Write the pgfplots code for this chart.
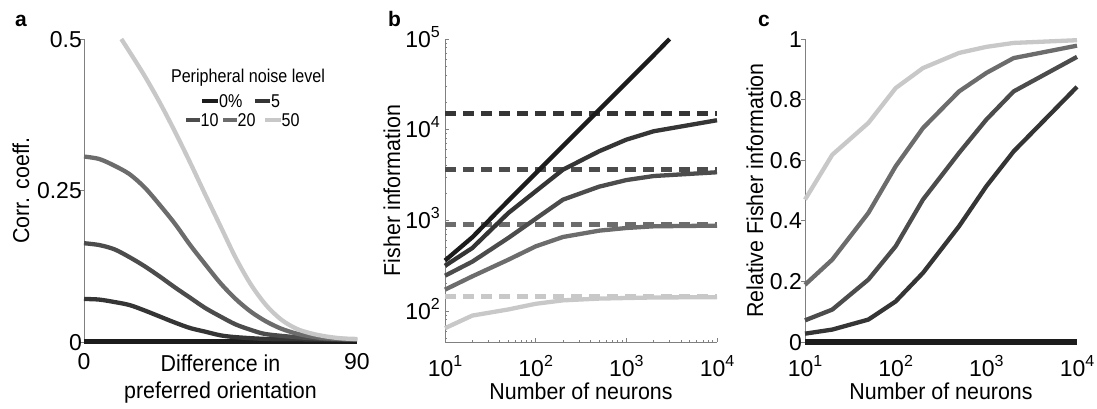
\documentclass[border=0pt]{standalone}
\usepackage{fontspec}
\setmainfont{Liberation Sans}
\newfontfamily\labf{Liberation Sans}[FakeStretch=0.93]
\newfontfamily\legf{Liberation Sans}[FakeStretch=0.87]
\usepackage{pgfplots}
\pgfplotsset{compat=1.18}
\definecolor{c0}{HTML}{1C1C1C}
\definecolor{c5}{HTML}{353535}
\definecolor{c10}{HTML}{4C4C4C}
\definecolor{c20}{HTML}{6C6C6C}
\definecolor{c50}{HTML}{C8C8C8}
\definecolor{axg}{HTML}{808080}
\newcommand{\tfont}{\fontsize{23}{26}\selectfont}
\newcommand{\labfont}{\labf\fontsize{23}{26.5}\selectfont}
\newcommand{\lfont}{\legf\fontsize{18.5}{20}\selectfont}
\newcommand{\pw}[1]{10\raisebox{10pt}{\fontsize{16}{16}\selectfont #1}}
\pgfplotsset{
  every axis/.append style={
    scale only axis, anchor=south west, height=303pt,
    axis x line*=bottom, axis y line*=left,
    axis line style={-, draw=axg, line width=0.8pt},
    tick style={draw=axg, line width=0.8pt},
    major tick length=4pt, minor tick length=2.5pt,
    tick label style={font=\tfont, inner sep=0pt},
    label style={font=\labfont},
    yticklabel style={anchor=base east, yshift=-8.2pt},
    xticklabel style={anchor=base},
    clip=false,
  },
  sol/.style={line width=4.3pt, line join=round},
  das/.style={line width=5pt, dash pattern=on 11pt off 7pt},
}
\begin{document}
\begin{tikzpicture}
\path[use as bounding box] (0,0) rectangle (1097pt,409pt);
% ---------------- panel a
\begin{axis}[at={(84pt,67pt)}, width=273pt,
  xmin=0, xmax=90, ymin=0, ymax=0.5,
  xtick={0,90}, xticklabels={0,90}, xtick style={draw=none},
  ytick={0,0.25,0.5}, yticklabels={0,0.25,0.5},
  tick align=outside,
  xticklabel style={yshift=-24pt},
  yticklabel style={xshift=2pt},
  xlabel={Difference in\\preferred orientation},
  xlabel style={align=center, at={(axis description cs:0.5,0)}, anchor=north, inner sep=0pt, yshift=-13pt},
  ylabel={Corr. coeff.},
  ylabel style={at={(axis description cs:-0.231,0.5)}, anchor=center},
]
\addplot[c0, line width=5pt] coordinates {(0,0) (90,0)};
\addplot[c5, sol, smooth] coordinates {(0,0.071) (5,0.070) (10,0.066) (15,0.061) (20,0.052) (25,0.042) (30,0.032) (35,0.023) (40,0.017) (45,0.011) (50,0.008) (60,0.005) (70,0.0045) (80,0.004) (90,0.004)};
\addplot[c10, sol, smooth] coordinates {(0,0.163) (5,0.160) (10,0.153) (15,0.140) (20,0.125) (25,0.108) (30,0.090) (35,0.073) (40,0.056) (45,0.042) (50,0.029) (55,0.020) (60,0.013) (70,0.008) (80,0.005) (90,0.004)};
\addplot[c20, sol, smooth] coordinates {(0,0.306) (5,0.302) (10,0.291) (15,0.277) (20,0.255) (25,0.226) (30,0.195) (35,0.160) (40,0.128) (45,0.097) (50,0.071) (55,0.050) (60,0.034) (65,0.022) (70,0.014) (75,0.009) (80,0.006) (90,0.004)};
\addplot[c50, sol, smooth] coordinates {(12.3,0.5) (15,0.479) (20,0.439) (25,0.395) (30,0.347) (35,0.296) (40,0.243) (45,0.191) (50,0.139) (55,0.095) (60,0.061) (65,0.037) (70,0.022) (75,0.014) (80,0.009) (85,0.006) (90,0.005)};
\end{axis}
% ---------------- panel b
\begin{axis}[at={(445pt,67pt)}, width=272pt,
  xmode=log, ymode=log,
  xmin=10, xmax=10000, ymin=45.5, ymax=100000,
  xtick={10,100,1000,10000}, xticklabels={\pw{1},\pw{2},\pw{3},\pw{4}},
  ytick={100,1000,10000,100000}, yticklabels={\pw{2},\pw{3},\pw{4},\pw{5}},
  minor xtick={20,30,40,50,60,70,80,90,200,300,400,500,600,700,800,900,2000,3000,4000,5000,6000,7000,8000,9000},
  minor ytick={50,60,70,80,90,200,300,400,500,600,700,800,900,2000,3000,4000,5000,6000,7000,8000,9000,20000,30000,40000,50000,60000,70000,80000,90000},
  tick align=inside,
  xticklabel style={yshift=-35pt},
  yticklabel style={xshift=-5pt},
  xlabel={Number of neurons},
  xlabel style={at={(axis description cs:0.5,0)}, anchor=base, inner sep=0pt, yshift=-58pt},
  ylabel={Fisher information},
  ylabel style={at={(axis description cs:-0.195,0.5)}, anchor=center},
]
\addplot[c5, das] coordinates {(10,14900) (10000,14900)};
\addplot[c10, das] coordinates {(10,3620) (10000,3620)};
\addplot[c20, das] coordinates {(10,896) (10000,896)};
\addplot[c50, das] coordinates {(10,145) (10000,145)};
\addplot[c50, sol] coordinates {(10,64.6) (20,89) (50,104) (100,120) (200,131) (500,137) (1000,139) (2000,141) (10000,142)};
\addplot[c20, sol] coordinates {(10,172) (20,241) (50,368) (100,516) (200,655) (500,769) (1000,823) (2000,859) (10000,874)};
\addplot[c10, sol] coordinates {(10,245) (20,350) (50,640) (100,1040) (200,1690) (500,2350) (1000,2780) (2000,3080) (10000,3390)};
\addplot[c5, sol] coordinates {(10,315) (20,495) (50,1205) (100,2090) (200,3620) (500,5770) (1000,7760) (2000,9600) (10000,12700)};
\addplot[c0, sol] coordinates {(10,360) (20,650) (50,1650) (100,3300) (200,6600) (500,16500) (1000,33000) (2000,66000) (3000,100000)};
\end{axis}
% ---------------- panel c
\begin{axis}[at={(805pt,67pt)}, width=272pt,
  xmode=log,
  xmin=10, xmax=10000, ymin=0, ymax=1,
  xtick={10,100,1000,10000}, xticklabels={\pw{1},\pw{2},\pw{3},\pw{4}},
  xtick style={draw=none},
  ytick={0,0.2,0.4,0.6,0.8,1}, yticklabels={0,0.2,0.4,0.6,0.8,1},
  tick align=outside,
  xticklabel style={yshift=-31pt},
  yticklabel style={xshift=1pt},
  xlabel={Number of neurons},
  xlabel style={at={(axis description cs:0.5,0)}, anchor=base, inner sep=0pt, yshift=-58pt},
  ylabel={Relative Fisher information},
  ylabel style={at={(axis description cs:-0.184,0.5)}, anchor=center},
]
\addplot[c0, line width=5.5pt] coordinates {(10,0) (10000,0)};
\addplot[c5, sol] coordinates {(10,0.0275) (20,0.041) (50,0.074) (100,0.134) (200,0.228) (500,0.382) (1000,0.514) (2000,0.629) (10000,0.842)};
\addplot[c10, sol] coordinates {(10,0.0715) (20,0.107) (50,0.206) (100,0.316) (200,0.47) (500,0.624) (1000,0.734) (2000,0.827) (10000,0.941)};
\addplot[c20, sol] coordinates {(10,0.189) (20,0.272) (50,0.426) (100,0.58) (200,0.706) (500,0.827) (1000,0.888) (2000,0.937) (10000,0.978)};
\addplot[c50, sol] coordinates {(10,0.47) (20,0.618) (50,0.723) (100,0.838) (200,0.904) (500,0.954) (1000,0.974) (2000,0.987) (10000,0.996)};
\end{axis}
% ---------------- legend of panel a
\node[font=\lfont, inner sep=0pt, anchor=center] at (248pt,331pt) {Peripheral noise level};
\draw[c0, line width=4.5pt] (202pt,308pt) -- (218pt,308pt);
\node[font=\lfont, inner sep=0pt, anchor=west] at (219pt,308pt) {0\%};
\draw[c5, line width=4.5pt] (255pt,308pt) -- (270pt,308pt);
\node[font=\lfont, inner sep=0pt, anchor=west] at (271pt,308pt) {5};
\draw[c10, line width=4.5pt] (186pt,289pt) -- (200pt,289pt);
\node[font=\lfont, inner sep=0pt, anchor=west] at (200.5pt,289pt) {10};
\draw[c20, line width=4.5pt] (223pt,289pt) -- (237pt,289pt);
\node[font=\lfont, inner sep=0pt, anchor=west] at (237.5pt,289pt) {20};
\draw[c50, line width=4.5pt] (265pt,289pt) -- (281pt,289pt);
\node[font=\lfont, inner sep=0pt, anchor=west] at (281.5pt,289pt) {50};
% ---------------- panel letters
\node[font=\bfseries\fontsize{21}{21}\selectfont, inner sep=0pt, anchor=base west] at (15pt,382pt) {a};
\node[font=\bfseries\fontsize{21}{21}\selectfont, inner sep=0pt, anchor=base west] at (388pt,382pt) {b};
\node[font=\bfseries\fontsize{21}{21}\selectfont, inner sep=0pt, anchor=base west] at (758pt,382pt) {c};
\end{tikzpicture}
\end{document}
